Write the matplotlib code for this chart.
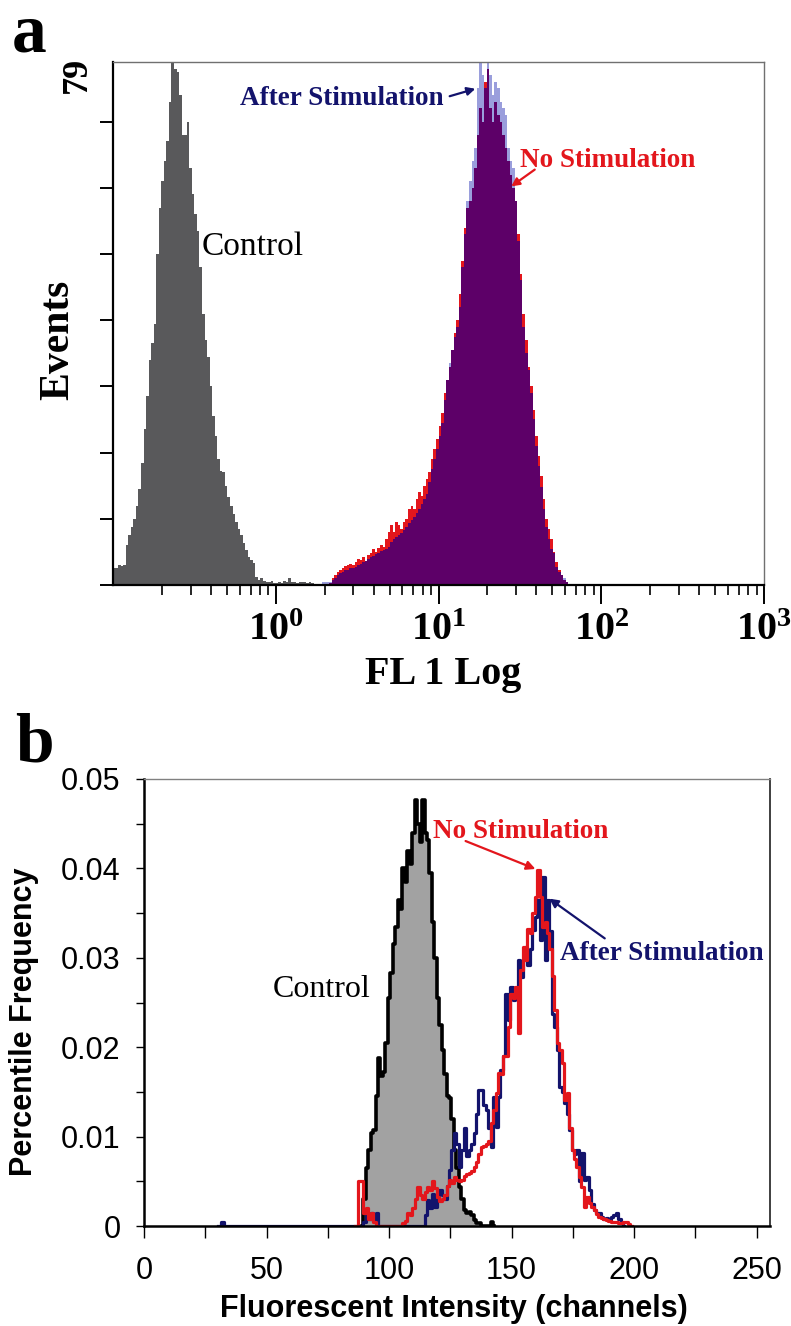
import numpy as np
import matplotlib
matplotlib.use("Agg")
import matplotlib.pyplot as plt
from matplotlib.ticker import LogLocator, NullFormatter, FixedLocator

plt.rcParams['mathtext.fontset'] = 'custom'
plt.rcParams['mathtext.rm'] = 'Liberation Serif'
plt.rcParams['mathtext.bf'] = 'Liberation Serif:bold'

# ---------------- panel a data (256 log channels over 4 decades) ----------------
control_a_start = 0
control_a = [2.5, 2.5, 3.0, 2.8, 3.0, 6.0, 7.5, 8.8, 10.0, 12.0,
             14.5, 18.5, 23.5, 28.5, 34.0, 36.5, 39.5, 50.0, 57.0, 61.0,
             64.0, 67.0, 73.0, 79.0, 78.0, 77.5, 74.0, 68.0, 68.0, 70.0,
             63.0, 59.0, 56.0, 53.5, 48.0, 41.0, 37.0, 34.5, 30.0, 25.5,
             22.5, 19.0, 17.2, 17.0, 15.0, 13.3, 12.0, 10.8, 9.5, 8.5,
             7.5, 6.3, 5.3, 4.2, 3.8, 3.3, 1.2, 0.8, 1.0, 0.6,
             0.5, 0.4, 0.6, 0.3, 0.3, 0.5, 0.3, 0.6, 0.4, 1.0,
             0.5, 0.4, 0.3, 0.4, 0.5, 0.4, 0.3, 0.4, 0.3, 0.2]

stim_a_start = 82
after_a = [0.4, 0.5, 0.5,
           0.5, 0.8, 1.0, 1.5, 1.8, 2.0, 2.2, 2.3, 2.5, 2.6,
           2.7, 3.0, 3.2, 3.4, 3.6, 4.0, 4.2, 4.4, 4.7, 4.9,
           5.1, 5.3, 5.5, 5.7, 6.5, 7.0, 7.3, 7.6, 7.9, 8.3,
           8.8, 9.3, 9.8, 10.3, 10.9, 11.5, 12.2, 13.0, 13.7, 15.5,
           17.5, 19.0, 20.5, 22.5, 24.5, 28.0, 31.0, 33.5, 35.5, 37.5,
           39.0, 42.0, 48.0, 53.0, 58.0, 61.0, 64.0, 66.0, 75.0, 79.0,
           77.0, 75.0, 79.0, 77.0, 74.0, 76.0, 75.0, 73.0, 72.0, 71.0,
           66.0, 64.0, 63.0, 58.0, 52.0, 46.0, 39.0, 35.0, 32.5, 29.0,
           25.0, 21.0, 18.0, 14.8, 11.5, 8.8, 7.0, 5.5, 4.8, 2.7,
           2.0, 1.5, 1.0, 0.5]
no_stim_a = [0.0, 0.0, 0.0,
             0.3, 1.0, 1.5, 2.0, 2.3, 2.6, 2.8, 3.0, 3.2, 3.0,
             3.5, 4.0, 3.8, 4.2, 3.6, 4.5, 4.8, 5.5, 5.0, 5.6,
             6.0, 5.8, 7.0, 8.0, 9.0, 8.0, 9.5, 9.0, 8.5, 9.5,
             10.0, 11.5, 12.0, 11.5, 13.0, 14.0, 13.5, 15.0, 16.0, 17.0,
             19.0, 20.5, 22.0, 24.0, 26.0, 29.0, 31.0, 33.0, 35.5, 38.0,
             40.0, 44.0, 49.0, 54.0, 57.0, 58.0, 60.0, 63.0, 68.0, 72.0,
             70.0, 76.0, 78.0, 72.0, 70.0, 73.0, 71.0, 70.0, 68.0, 66.0,
             64.0, 62.0, 60.0, 58.0, 53.0, 47.0, 41.0, 37.0, 33.0, 30.0,
             26.5, 22.5, 19.5, 16.5, 13.0, 10.0, 8.5, 7.0, 5.0, 3.5,
             2.2, 1.5, 0.8, 0.4]

# ---------------- panel b data (linear channels) ----------------
control_b_start = 89
control_b = [0.0, 0.003, 0.0065, 0.0085, 0.0104, 0.0107, 0.0145, 0.0188, 0.0168, 0.0172,
             0.0205, 0.0255, 0.0283, 0.0315, 0.0335, 0.0365, 0.0355, 0.0400, 0.0385, 0.0420,
             0.0405, 0.0440, 0.0477, 0.0450, 0.0430, 0.0477, 0.0440, 0.0432, 0.0395, 0.0340,
             0.0300, 0.0255, 0.0225, 0.0197, 0.0170, 0.0145, 0.0143, 0.0120, 0.0085, 0.0065,
             0.0044, 0.0030, 0.0018, 0.0014, 0.0016, 0.0012, 0.0007, 0.0003, 0.0003, 0.0,
             0.0, 0.0, 0.0, 0.0004, 0.0]

no_stim_b_start = 86
no_stim_b = ([0.0, 0.0, 0.005, 0.005, 0.0015, 0.002, 0.0008, 0.0015, 0.0005, 0.0]
             + [0.0] * 10
             + [0.0003, 0.0006, 0.0014, 0.0012, 0.002, 0.003, 0.0044, 0.0035, 0.003, 0.0038,
                0.0044, 0.004, 0.005, 0.0042, 0.0032, 0.0028, 0.003, 0.0035, 0.0045, 0.0051,
                0.0048, 0.0055, 0.0052, 0.005, 0.0052, 0.0056, 0.0058, 0.0059, 0.0062, 0.0066,
                0.0072, 0.008, 0.0088, 0.009, 0.0092, 0.0095, 0.0115, 0.013, 0.0149, 0.0171,
                0.017, 0.019, 0.019, 0.0223, 0.026, 0.0255, 0.0267, 0.0216, 0.0286, 0.0312,
                0.0298, 0.0332, 0.0328, 0.035, 0.0368, 0.0398, 0.0368, 0.0335, 0.034, 0.0328,
                0.031, 0.028, 0.0242, 0.0205, 0.0197, 0.0182, 0.0141, 0.0149, 0.011, 0.0085,
                0.0075, 0.0066, 0.0055, 0.0044, 0.0021, 0.0032, 0.0026, 0.0021, 0.0018, 0.0013,
                0.001, 0.0009, 0.0008, 0.0007, 0.0006, 0.0005, 0.0005, 0.0004, 0.0003, 0.0003,
                0.0004, 0.0004, 0.0002, 0.0])

after_b_start = 30
after_b = ([0.0, 0.0, 0.0004, 0.0]
           + [0.0] * 56
           + [0.0005, 0.0015, 0.0008, 0.0015, 0.0006, 0.0014, 0.0]
           + [0.0] * 18
           + [0.0012, 0.0029, 0.002, 0.0036, 0.0021, 0.003, 0.004, 0.0035, 0.003, 0.0045,
              0.0063, 0.0085, 0.0104, 0.0092, 0.0066, 0.0085, 0.011, 0.0078, 0.0085, 0.0092,
              0.0104, 0.0125, 0.0152, 0.0152, 0.0135, 0.013, 0.011, 0.0088, 0.0144, 0.0111,
              0.0144, 0.0175, 0.019, 0.026, 0.023, 0.0267, 0.0253, 0.026, 0.0298, 0.0279,
              0.0298, 0.0312, 0.0292, 0.031, 0.0331, 0.0346, 0.0365, 0.032, 0.039, 0.0298,
              0.0365, 0.033, 0.0237, 0.0223, 0.0197, 0.0155, 0.015, 0.0138, 0.0125, 0.0107,
              0.0085, 0.008, 0.0085, 0.005, 0.0082, 0.0051, 0.0055, 0.004, 0.0025, 0.0018,
              0.0015, 0.0014, 0.001, 0.0008, 0.0009, 0.0007, 0.001, 0.0012, 0.0014, 0.0008,
              0.0003, 0.0])

W, H = 791, 1326
fig = plt.figure(figsize=(W / 100, H / 100), dpi=100)


def fx(x):
    return x / W


def fy(y):
    return 1 - y / H


SERIF = 'Liberation Serif'
SANS = 'Liberation Sans'
RED = '#e3161c'
NAVY = '#13136c'


def log_edges(start, n):
    ch = np.arange(start, start + n + 1)
    return 10 ** (ch / 64.0 - 1)


# ================= panel a =================
ax1 = fig.add_axes([fx(113), fy(585), fx(764) - fx(113), fy(62) - fy(585)])
ax1.set_xscale('log')

ax1.stairs(control_a, log_edges(control_a_start, len(control_a)), fill=True,
           color='#59595b', linewidth=0)
stim_edges = log_edges(stim_a_start, len(after_a))
ax1.stairs(after_a, stim_edges, fill=True, color='#9a9edc', linewidth=0)
ax1.stairs(no_stim_a, stim_edges, fill=True, color=RED, linewidth=0)
ax1.stairs(np.minimum(after_a, no_stim_a), stim_edges, fill=True,
           color='#5d0068', linewidth=0)

ax1.set_xlim(0.1, 1000)
ax1.set_ylim(0, 79)
ax1.xaxis.set_major_locator(FixedLocator([1, 10, 100, 1000]))
ax1.xaxis.set_minor_locator(LogLocator(base=10, subs=np.arange(2, 10)))
ax1.xaxis.set_minor_formatter(NullFormatter())
ax1.set_xticklabels([r'$\mathbf{10^{0}}$', r'$\mathbf{10^{1}}$',
                     r'$\mathbf{10^{2}}$', r'$\mathbf{10^{3}}$'])
ax1.set_yticks(np.arange(0, 71, 10))
ax1.set_yticklabels([])
ax1.tick_params(axis='x', which='major', direction='out', length=14, width=1.4,
                labelsize=29, pad=3)
ax1.tick_params(axis='x', which='minor', direction='out', length=7, width=1.2)
ax1.tick_params(axis='y', direction='out', length=9.5, width=1.4)
for s in ['left', 'bottom']:
    ax1.spines[s].set_linewidth(1.6)
    ax1.spines[s].set_color('black')
for s in ['top', 'right']:
    ax1.spines[s].set_linewidth(1.0)
    ax1.spines[s].set_color('#707070')

fig.text(fx(12), fy(52), 'a', family=SERIF, weight='bold', fontsize=50,
         ha='left', va='baseline')
fig.text(fx(77), fy(75), '79', family=SERIF, weight='bold', fontsize=26,
         rotation=90, ha='center', va='center')
fig.text(fx(58), fy(340), 'Events', family=SERIF, weight='bold', fontsize=30,
         rotation=90, ha='center', va='center')
fig.text(fx(443), fy(684), 'FL 1 Log', family=SERIF, weight='bold', fontsize=29,
         ha='center', va='baseline')
fig.text(fx(240), fy(105), 'After Stimulation', family=SERIF, weight='bold',
         fontsize=19.5, color=NAVY, ha='left', va='baseline')
fig.text(fx(520), fy(167), 'No Stimulation', family=SERIF, weight='bold',
         fontsize=19.5, color=RED, ha='left', va='baseline')
fig.text(fx(202), fy(255), 'Control', family=SERIF, fontsize=24,
         ha='left', va='baseline')
fig.add_artist(matplotlib.patches.FancyArrowPatch(
    (fx(447), fy(97)), (fx(478), fy(88)), transform=fig.transFigure,
    arrowstyle='-|>', mutation_scale=12, color=NAVY, linewidth=1.6))
fig.add_artist(matplotlib.patches.FancyArrowPatch(
    (fx(537), fy(168)), (fx(509), fy(188)), transform=fig.transFigure,
    arrowstyle='-|>', mutation_scale=12, color=RED, linewidth=1.6))

# ================= panel b =================
ax2 = fig.add_axes([fx(144), fy(1226), fx(770) - fx(144), fy(779) - fy(1226)])

cb_x = np.arange(control_b_start, control_b_start + len(control_b))
ax2.fill_between(cb_x, control_b, step='mid', color='#a2a2a2', linewidth=0)
ax2.plot(cb_x, control_b, drawstyle='steps-mid', color='black', linewidth=2.6)

ab_x = np.arange(after_b_start, after_b_start + len(after_b))
ax2.plot(ab_x, after_b, drawstyle='steps-mid', color=NAVY, linewidth=2.3)
nb_x = np.arange(no_stim_b_start, no_stim_b_start + len(no_stim_b))
ax2.plot(nb_x, no_stim_b, drawstyle='steps-mid', color=RED, linewidth=2.3)

ax2.set_xlim(0, 255.5)
ax2.set_ylim(0, 0.05)
ax2.set_xticks(np.arange(0, 251, 25))
ax2.set_xticklabels([str(v) if v % 50 == 0 else '' for v in range(0, 251, 25)])
ax2.set_yticks(np.arange(0, 0.0501, 0.005))
ax2.set_yticklabels(['0' if i == 0 else ('%.2f' % (i * 0.005) if i % 2 == 0 else '')
                     for i in range(11)])
for lab in ax2.get_xticklabels() + ax2.get_yticklabels():
    lab.set_family(SANS)
ax2.tick_params(axis='x', direction='out', length=8.5, width=1.0, labelsize=22,
                pad=13, colors='black')
ax2.tick_params(axis='y', direction='out', length=6, width=1.0, labelsize=22,
                pad=11)
for s in ['left', 'bottom']:
    ax2.spines[s].set_linewidth(1.8)
    ax2.spines[s].set_color('black')
ax2.spines['top'].set_linewidth(1.0)
ax2.spines['top'].set_color('#808080')
ax2.spines['right'].set_linewidth(1.3)
ax2.spines['right'].set_color('#303030')

fig.text(fx(15), fy(762), 'b', family=SERIF, weight='bold', fontsize=50,
         ha='left', va='baseline')
fig.text(fx(24), fy(1022), 'Percentile Frequency', family=SANS, weight='bold',
         fontsize=22, rotation=90, ha='center', va='center')
fig.text(fx(454), fy(1317), 'Fluorescent Intensity (channels)', family=SANS,
         weight='bold', fontsize=22, ha='center', va='baseline')
fig.text(fx(273), fy(997), 'Control', family=SERIF, fontsize=23,
         ha='left', va='baseline')
fig.text(fx(433), fy(838), 'No Stimulation', family=SERIF, weight='bold',
         fontsize=19.5, color=RED, ha='left', va='baseline')
fig.text(fx(560), fy(960), 'After Stimulation', family=SERIF, weight='bold',
         fontsize=19.5, color=NAVY, ha='left', va='baseline')
fig.add_artist(matplotlib.patches.FancyArrowPatch(
    (fx(463), fy(840)), (fx(538), fy(870)), transform=fig.transFigure,
    arrowstyle='-|>', mutation_scale=13, color=RED, linewidth=1.6))
fig.add_artist(matplotlib.patches.FancyArrowPatch(
    (fx(607), fy(940)), (fx(547), fy(897)), transform=fig.transFigure,
    arrowstyle='-|>', mutation_scale=13, color=NAVY, linewidth=1.6))

fig.savefig('out.png', dpi=100)
